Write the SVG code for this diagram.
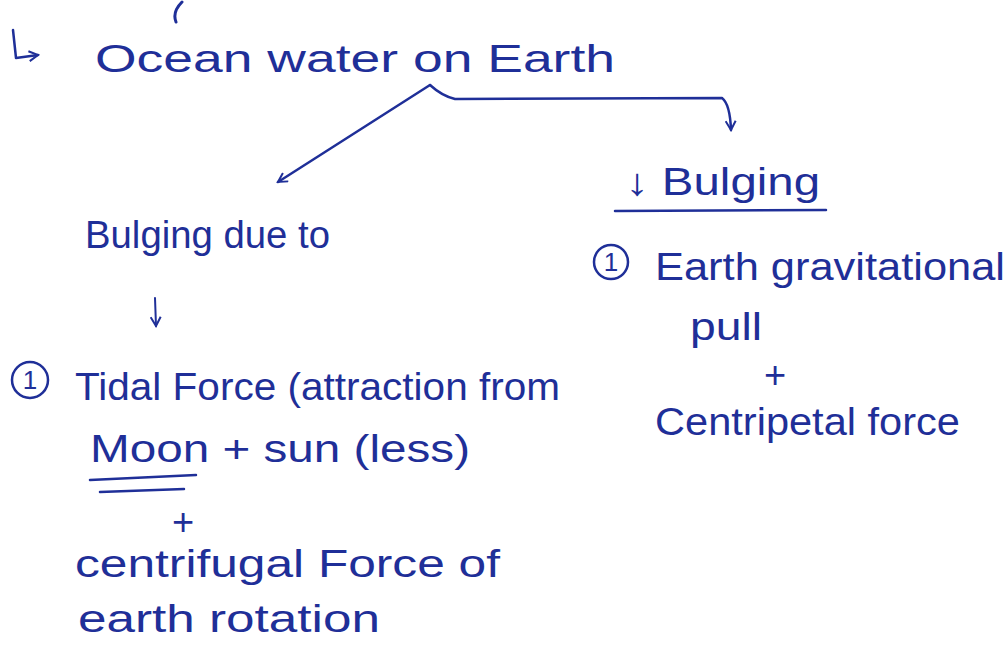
<svg xmlns="http://www.w3.org/2000/svg" width="1006" height="657" viewBox="0 0 1006 657">
<style>
.t{font-family:"Liberation Sans","DejaVu Sans",sans-serif;fill:#1f2f98;font-size:38px}
.n{font-family:"Liberation Sans","DejaVu Sans",sans-serif;fill:#1f2f98;font-size:26px;text-anchor:middle}
.ln{fill:none;stroke:#1f2f98;stroke-width:3;stroke-linecap:round;stroke-linejoin:round}
</style>
<defs>
<marker id="ah" viewBox="0 0 12 12" refX="10" refY="6" markerWidth="12" markerHeight="12" orient="auto" markerUnits="userSpaceOnUse">
<path d="M1,1 L10,6 L1,11" fill="none" stroke="#1f2f98" stroke-width="2"/>
</marker>
</defs>
<rect width="1006" height="657" fill="#ffffff"/>
<path class="ln" d="M182,2 Q172,12 176,22"/>
<g id="title">
<path class="ln" d="M13,30 L16,58 L38,55" marker-end="url(#ah)" style="stroke-width:2.5"/>
<text class="t" x="95" y="72" font-size="40" textLength="520" lengthAdjust="spacingAndGlyphs">Ocean water on Earth</text>
</g>
<g id="connectors">
<path class="ln" d="M430,85 L278,182" marker-end="url(#ah)" style="stroke-width:2.5"/>
<path class="ln" d="M430,85 Q442,96 455,99 L722,98 Q730,104 731,130" marker-end="url(#ah)" style="stroke-width:2.5"/>
<path class="ln" d="M155,298 L156,326" marker-end="url(#ah)" style="stroke-width:2"/>
</g>
<g id="left-head">
<text class="t" x="85" y="248" font-size="42" textLength="245" lengthAdjust="spacingAndGlyphs">Bulging due to</text>
</g>
<g id="left-body">
<circle cx="30" cy="380" r="18" class="ln" style="stroke-width:2.5"/>
<text class="n" x="30" y="389">1</text>
<text class="t" x="75" y="400" textLength="485" lengthAdjust="spacingAndGlyphs">Tidal Force (attraction from</text>
<text class="t" x="90" y="462" textLength="380" lengthAdjust="spacingAndGlyphs">Moon + sun (less)</text>
<path class="ln" d="M90,480 L196,475 M100,492 L184,489" style="stroke-width:2.5"/>
<text class="t" x="172" y="535" font-size="32">+</text>
<text class="t" x="75" y="577" font-size="40" textLength="425" lengthAdjust="spacingAndGlyphs">centrifugal Force of</text>
<text class="t" x="78" y="632" font-size="40" textLength="302" lengthAdjust="spacingAndGlyphs">earth rotation</text>
</g>
<g id="right-head">
<text class="t" x="625" y="195" textLength="195" lengthAdjust="spacingAndGlyphs">↓ Bulging</text>
<path class="ln" d="M615,211 L826,210" style="stroke-width:2.5"/>
</g>
<g id="right-body">
<circle cx="611" cy="262" r="17" class="ln" style="stroke-width:2.5"/>
<text class="n" x="611" y="271">1</text>
<text class="t" x="655" y="280" font-size="40" textLength="350" lengthAdjust="spacingAndGlyphs">Earth gravitational</text>
<text class="t" x="690" y="340" textLength="72" lengthAdjust="spacingAndGlyphs">pull</text>
<text class="t" x="764" y="388" font-size="32">+</text>
<text class="t" x="655" y="435" textLength="305" lengthAdjust="spacingAndGlyphs">Centripetal force</text>
</g>
</svg>
